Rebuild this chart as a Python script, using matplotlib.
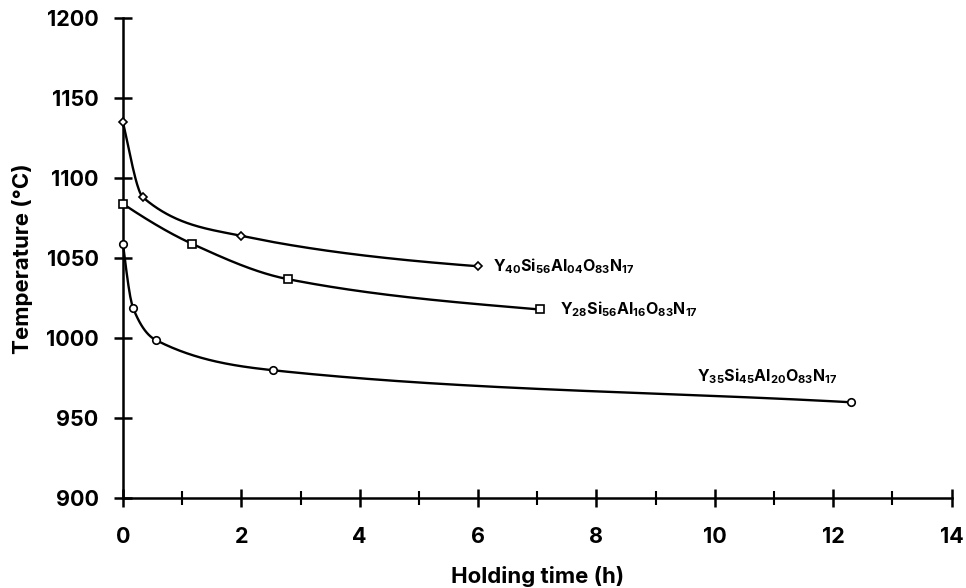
import numpy as np
import matplotlib
matplotlib.use("Agg")
import matplotlib.pyplot as plt
from matplotlib.ticker import MultipleLocator

FONT = 'Inter'
plt.rcParams['font.family'] = [FONT, 'Liberation Sans', 'DejaVu Sans']
plt.rcParams['font.weight'] = 'bold'
plt.rcParams['mathtext.fontset'] = 'custom'
plt.rcParams['mathtext.rm'] = FONT + ':bold'
plt.rcParams['mathtext.bf'] = FONT + ':bold'
plt.rcParams['mathtext.it'] = FONT + ':bold'

# ---- data ----
t_y40 = [0.0, 0.34, 2.0, 6.0]
T_y40 = [1135, 1088, 1064, 1045]

t_y28 = [0.0, 1.17, 2.78, 7.04]
T_y28 = [1084, 1059, 1037, 1018]

t_y35 = [0.0, 0.17, 0.55, 2.54, 12.3]
T_y35 = [1059, 1019, 999, 980, 960]

labels = [r'$\mathbf{Y_{40}Si_{56}Al_{04}O_{83}N_{17}}$',
          r'$\mathbf{Y_{28}Si_{56}Al_{16}O_{83}N_{17}}$',
          r'$\mathbf{Y_{35}Si_{45}Al_{20}O_{83}N_{17}}$']

x_ticks = [0, 2, 4, 6, 8, 10, 12, 14]
y_ticks = [900, 950, 1000, 1050, 1100, 1150, 1200]


def smooth_curve(x, y, end_factor, n=400):
    """Smooth monotone cubic line through the points (for drawing only)."""
    x = np.asarray(x, float)
    y = np.asarray(y, float)
    h = np.diff(x)
    d = np.diff(y) / h
    m = np.zeros_like(y)
    for k in range(1, len(x) - 1):
        if d[k - 1] * d[k] > 0:
            w1 = 2 * h[k] + h[k - 1]
            w2 = h[k] + 2 * h[k - 1]
            m[k] = (w1 + w2) / (w1 / d[k - 1] + w2 / d[k])
    s = ((2 * h[0] + h[1]) * d[0] - h[0] * d[1]) / (h[0] + h[1])
    if np.sign(s) != np.sign(d[0]):
        s = 0.0
    m[0] = s
    m[-1] = end_factor * d[-1]
    xs = np.linspace(x[0], x[-1], n)
    idx = np.clip(np.searchsorted(x, xs) - 1, 0, len(x) - 2)
    hh = h[idx]
    s = (xs - x[idx]) / hh
    h00 = 2 * s**3 - 3 * s**2 + 1
    h10 = s**3 - 2 * s**2 + s
    h01 = -2 * s**3 + 3 * s**2
    h11 = s**3 - s**2
    ys = h00 * y[idx] + h10 * hh * m[idx] + h01 * y[idx + 1] + h11 * hh * m[idx + 1]
    return xs, ys


fig = plt.figure(figsize=(9.66, 5.88), dpi=100)
ax = fig.add_axes([0.1273, 0.1526, 0.8578, 0.8163])

series = [(t_y40, T_y40, 'D', 4.4, 0.6), (t_y28, T_y28, 's', 5.2, 0.7),
          (t_y35, T_y35, 'o', 5.4, 1.0)]
for (tx, ty, mk, ms, ef) in series:
    xs, ys = smooth_curve(tx, ty, ef)
    ax.plot(xs, ys, color='black', lw=1.7, clip_on=False, zorder=3)
    ax.plot(tx, ty, linestyle='none', marker=mk, ms=ms, mfc='white', mec='black',
            mew=1.2, clip_on=False, zorder=4)

# series labels next to the last points
ax.annotate(labels[0], (t_y40[-1], T_y40[-1]), xytext=(11, 0), textcoords='offset points',
            ha='left', va='center', fontsize=11.5)
ax.annotate(labels[1], (t_y28[-1], T_y28[-1]), xytext=(15, 0), textcoords='offset points',
            ha='left', va='center', fontsize=11.5)
ax.annotate(labels[2], (t_y35[-1], T_y35[-1]), xytext=(-111, 19), textcoords='offset points',
            ha='left', va='center', fontsize=11.5)

ax.set_xlim(0, 14)
ax.set_ylim(900, 1200)
ax.set_xticks(x_ticks)
ax.set_yticks(y_ticks)
ax.xaxis.set_minor_locator(MultipleLocator(1))

for side in ['top', 'right']:
    ax.spines[side].set_visible(False)
for side in ['left', 'bottom']:
    ax.spines[side].set_linewidth(1.8)

ax.tick_params(axis='both', which='major', direction='inout', length=13, width=1.8,
               labelsize=15.5)
ax.tick_params(axis='x', which='minor', direction='inout', length=10, width=1.5)
ax.tick_params(axis='x', which='major', pad=14)
ax.tick_params(axis='y', which='major', pad=11)
for lab in ax.get_xticklabels() + ax.get_yticklabels():
    lab.set_fontweight('bold')

ax.set_xlabel('Holding time (h)', fontsize=16, fontweight='bold')
ax.set_ylabel('Temperature (°C)', fontsize=16, fontweight='bold')
ax.xaxis.label.set_va('center')
ax.yaxis.label.set_va('center')
ax.xaxis.set_label_coords(0.5, -0.162)
ax.yaxis.set_label_coords(-0.1207, 0.5)

fig.savefig('out.png', dpi=100)
